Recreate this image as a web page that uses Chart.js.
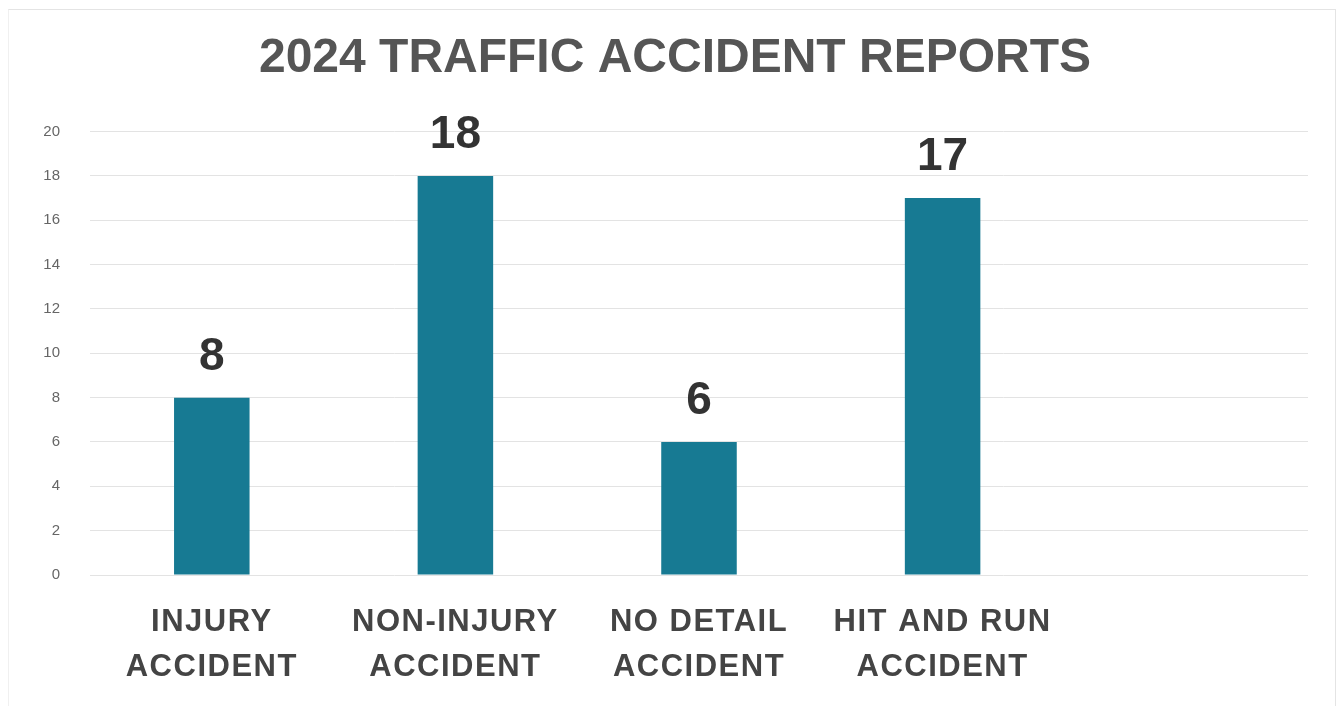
<!DOCTYPE html>
<html><head><meta charset="utf-8">
<script src="https://cdn.jsdelivr.net/npm/chart.js@4/dist/chart.umd.min.js"></script>
<style>
html,body{margin:0;padding:0;background:#fff;}
#wrap{position:relative;width:1343px;height:706px;}
#frame{position:absolute;left:8px;top:9px;width:1328px;height:700px;border-top:1px solid #e4e4e4;border-right:1px solid #e4e4e4;border-left:1px solid #f0f0f0;box-sizing:border-box;pointer-events:none;}
</style>
</head><body>
<div id="wrap"><canvas id="c" width="1343" height="706"></canvas><div id="frame"></div></div>
<script>
const title = '2024 TRAFFIC ACCIDENT REPORTS';
const categories = [['INJURY','ACCIDENT'],['NON-INJURY','ACCIDENT'],['NO DETAIL','ACCIDENT'],['HIT AND RUN','ACCIDENT'],''];
const values = [8, 18, 6, 17, null];
const yTicks = [0,2,4,6,8,10,12,14,16,18,20];

const valueLabels = {
  id: 'valueLabels',
  afterDatasetsDraw(chart) {
    const ctx = chart.ctx;
    const meta = chart.getDatasetMeta(0);
    ctx.save();
    ctx.fillStyle = '#333333';
    ctx.font = 'bold 46px "Liberation Sans", Arial, sans-serif';
    ctx.textAlign = 'center';
    ctx.textBaseline = 'alphabetic';
    meta.data.forEach((bar, i) => {
      const v = values[i];
      if (v === null || v === undefined) return;
      ctx.fillText(String(v), bar.x, bar.y - 28);
    });
    ctx.restore();
  }
};

new Chart(document.getElementById('c'), {
  type: 'bar',
  data: {
    labels: categories,
    datasets: [{
      data: values,
      backgroundColor: '#177a93',
      barPercentage: 0.31,
      categoryPercentage: 1.0
    }]
  },
  options: {
    responsive: false,
    animation: false,
    layout: { padding: { left: 42, right: 35, top: 18, bottom: 0 } },
    plugins: {
      legend: { display: false },
      tooltip: { enabled: false },
      title: {
        display: true,
        text: title,
        color: '#555555',
        font: { family: '"Liberation Sans", Arial, sans-serif', size: 48, weight: 'bold' },
        padding: { top: 12, bottom: 44 }
      }
    },
    scales: {
      y: {
        min: 0, max: 20,
        afterBuildTicks(scale) { scale.ticks = yTicks.map(v => ({ value: v })); },
        ticks: { color: '#666666', font: { family: '"Liberation Sans", Arial, sans-serif', size: 15 }, padding: 30 },
        grid: { color: '#e3e3e3', drawTicks: false },
        border: { display: false },
        afterFit(scale) { scale.width = 48; }
      },
      x: {
        ticks: { color: '#444444', font: { family: '"Liberation Sans", Arial, sans-serif', size: 31, weight: 'bold', lineHeight: 1.45 }, padding: 25, maxRotation: 0, autoSkip: false },
        grid: { display: false, drawTicks: false },
        border: { display: false },
        afterFit(scale) {
          scale.height = 131;
          if (!scale._spaced) {
            const orig = scale.drawLabels;
            scale.drawLabels = function (area) {
              const c = this.ctx;
              c.save();
              c.letterSpacing = '1.5px';
              orig.call(this, area);
              c.restore();
            };
            scale._spaced = true;
          }
        }
      }
    }
  },
  plugins: [valueLabels]
});
</script>
</body></html>
